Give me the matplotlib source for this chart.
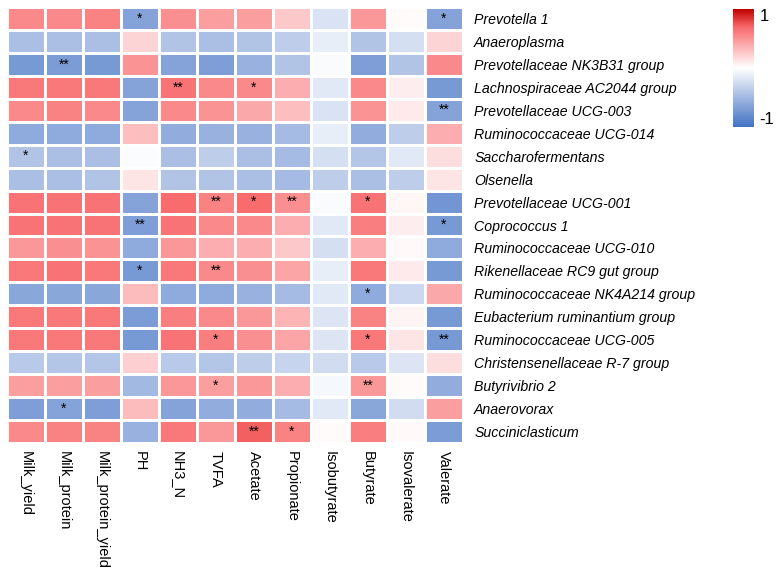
import numpy as np
import matplotlib
matplotlib.use("Agg")
import matplotlib.pyplot as plt
from matplotlib.colors import LinearSegmentedColormap, Normalize
from matplotlib.colorbar import ColorbarBase

plt.rcParams['font.family'] = ['Liberation Sans', 'DejaVu Sans']

env = ["Milk_yield", "Milk_protein", "Milk_protein_yield", "PH", "NH3_N", "TVFA",
       "Acetate", "Propionate", "Isobutyrate", "Butyrate", "Isovalerate", "Valerate"]

genera = ["Prevotella 1", "Anaeroplasma", "Prevotellaceae NK3B31 group",
          "Lachnospiraceae AC2044 group", "Prevotellaceae UCG-003",
          "Ruminococcaceae UCG-014", "Saccharofermentans", "Olsenella",
          "Prevotellaceae UCG-001", "Coprococcus 1", "Ruminococcaceae UCG-010",
          "Rikenellaceae RC9 gut group", "Ruminococcaceae NK4A214 group",
          "Eubacterium ruminantium group", "Ruminococcaceae UCG-005",
          "Christensenellaceae R-7 group", "Butyrivibrio 2", "Anaerovorax",
          "Succiniclasticum"]

# correlation coefficients
corr = np.array([
    [0.55, 0.55, 0.58, -0.65, 0.52, 0.45, 0.45, 0.25, -0.20, 0.48, 0.02, -0.65],
    [-0.45, -0.45, -0.45, 0.20, -0.42, -0.45, -0.42, -0.35, -0.12, -0.42, -0.22, 0.20],
    [-0.72, -0.70, -0.72, 0.50, -0.65, -0.68, -0.55, -0.42, -0.03, -0.68, -0.42, 0.55],
    [0.62, 0.62, 0.62, -0.65, 0.65, 0.55, 0.55, 0.38, -0.15, 0.55, 0.08, -0.72],
    [0.55, 0.58, 0.55, -0.65, 0.55, 0.50, 0.40, 0.30, -0.20, 0.50, 0.10, -0.65],
    [-0.60, -0.60, -0.60, 0.30, -0.58, -0.55, -0.55, -0.48, -0.12, -0.58, -0.35, 0.38],
    [-0.42, -0.45, -0.45, -0.02, -0.45, -0.35, -0.45, -0.48, -0.22, -0.40, -0.15, 0.15],
    [-0.45, -0.45, -0.42, 0.12, -0.42, -0.42, -0.45, -0.48, -0.35, -0.45, -0.35, 0.12],
    [0.65, 0.65, 0.65, -0.65, 0.68, 0.58, 0.68, 0.52, -0.03, 0.65, 0.04, -0.75],
    [0.65, 0.65, 0.65, -0.68, 0.65, 0.55, 0.55, 0.38, -0.15, 0.60, 0.08, -0.72],
    [0.48, 0.52, 0.50, -0.60, 0.48, 0.38, 0.38, 0.25, -0.22, 0.38, 0.03, -0.60],
    [0.62, 0.65, 0.62, -0.72, 0.62, 0.55, 0.52, 0.42, -0.12, 0.62, 0.10, -0.72],
    [-0.62, -0.62, -0.62, 0.32, -0.60, -0.60, -0.55, -0.48, -0.15, -0.60, -0.28, 0.40],
    [0.62, 0.62, 0.62, -0.70, 0.60, 0.55, 0.48, 0.35, -0.18, 0.58, 0.05, -0.72],
    [0.62, 0.62, 0.62, -0.72, 0.65, 0.60, 0.52, 0.42, -0.18, 0.62, 0.12, -0.72],
    [-0.38, -0.40, -0.40, 0.22, -0.38, -0.40, -0.35, -0.30, -0.25, -0.38, -0.18, 0.15],
    [0.45, 0.45, 0.45, -0.50, 0.48, 0.45, 0.48, 0.38, -0.05, 0.48, 0.02, -0.58],
    [-0.68, -0.65, -0.68, 0.32, -0.65, -0.58, -0.58, -0.48, -0.15, -0.62, -0.25, 0.45],
    [0.55, 0.58, 0.58, -0.55, 0.62, 0.48, 0.72, 0.58, 0.02, 0.60, 0.03, -0.70],
])

# significance marks
signif = [
    ["", "", "", "*", "", "", "", "", "", "", "", "*"],
    ["", "", "", "", "", "", "", "", "", "", "", ""],
    ["", "**", "", "", "", "", "", "", "", "", "", ""],
    ["", "", "", "", "**", "", "*", "", "", "", "", ""],
    ["", "", "", "", "", "", "", "", "", "", "", "**"],
    ["", "", "", "", "", "", "", "", "", "", "", ""],
    ["*", "", "", "", "", "", "", "", "", "", "", ""],
    ["", "", "", "", "", "", "", "", "", "", "", ""],
    ["", "", "", "", "", "**", "*", "**", "", "*", "", ""],
    ["", "", "", "**", "", "", "", "", "", "", "", "*"],
    ["", "", "", "", "", "", "", "", "", "", "", ""],
    ["", "", "", "*", "", "**", "", "", "", "", "", ""],
    ["", "", "", "", "", "", "", "", "", "*", "", ""],
    ["", "", "", "", "", "", "", "", "", "", "", ""],
    ["", "", "", "", "", "*", "", "", "", "*", "", "**"],
    ["", "", "", "", "", "", "", "", "", "", "", ""],
    ["", "", "", "", "", "*", "", "", "", "**", "", ""],
    ["", "*", "", "", "", "", "", "", "", "", "", ""],
    ["", "", "", "", "", "", "**", "*", "", "", "", ""],
]

cmap = LinearSegmentedColormap.from_list(
    "bwr_excel",
    [(0.0, "#4472C4"), (0.5, "#FFFFFF"), (0.85, "#F8696B"), (1.0, "#C00000")])
norm = Normalize(vmin=-1, vmax=1)

fig = plt.figure(figsize=(7.77, 5.71), dpi=100)
W, H = 777, 571
ax = fig.add_axes([7 / W, 1 - 443 / H, 456 / W, 436 / H])

ax.pcolormesh(corr, cmap=cmap, norm=norm, edgecolors="white", linewidth=0.8)
ax.set_xlim(0, len(env))
ax.set_ylim(len(genera), 0)

for i in range(len(genera)):
    for j in range(len(env)):
        if signif[i][j]:
            ax.text(j + 0.5, i + 0.5, signif[i][j], ha="center", va="center",
                    fontsize=10, color="black")

ax.set_xticks(np.arange(len(env)) + 0.5)
ax.set_xticklabels(env, rotation=270, ha="center", va="top", fontsize=10.5)
ax.set_yticks(np.arange(len(genera)) + 0.5)
ax.set_yticklabels(genera, fontsize=10.2, style="italic")
ax.yaxis.tick_right()
ax.tick_params(length=0, pad=8)
ax.tick_params(axis="x", pad=6)
for s in ax.spines.values():
    s.set_visible(False)

# colour legend
cax = fig.add_axes([733 / W, 1 - 127 / H, 21 / W, 118 / H])
cb = ColorbarBase(cax, cmap=cmap, norm=norm)
cb.outline.set_visible(False)
cb.set_ticks([-1, 1])
cb.set_ticklabels(["-1", "1"])
cax.tick_params(length=0, labelsize=12, pad=4)
tl = cax.get_yticklabels()
tl[0].set_va("bottom")
tl[1].set_va("top")

fig.savefig("out.png", dpi=100)
